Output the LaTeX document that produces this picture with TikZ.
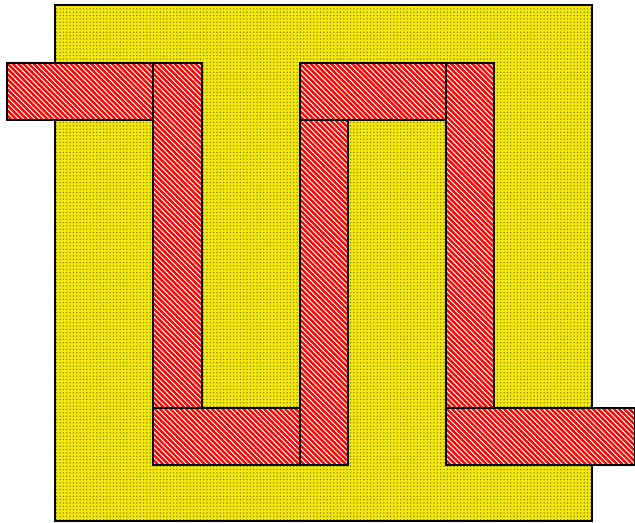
\documentclass[tikz,border=0pt]{standalone}
\usetikzlibrary{patterns.meta}

\definecolor{platedot}{RGB}{130,130,0}
\tikzset{
  plate/.style={draw=black, line width=1.1pt, preaction={fill=yellow!95!black}, pattern={Dots[distance=1.9pt, radius=0.45pt]}, pattern color=platedot},
  strip/.style={draw=black, line width=1.1pt, preaction={fill=red}, pattern={Lines[angle=-45, distance=2.1pt, line width=0.6pt]}, pattern color=white}
}

\begin{document}
\begin{tikzpicture}[x=0.02cm, y=-0.02cm]
\useasboundingbox (0,0) rectangle (635,523);
% substrate
\path[plate] (55,5) rectangle (592,521);
% meander strips, in order
\path[strip] (7,63) rectangle (153,120); \path[strip] (153,63) rectangle (202,408);
\path[strip] (153,408) rectangle (300,465); \path[strip] (300,120) rectangle (348,465);
\path[strip] (300,63) rectangle (446,120); \path[strip] (446,63) rectangle (494,408);
\path[strip] (446,408) rectangle (635,465);
\end{tikzpicture}
\end{document}
